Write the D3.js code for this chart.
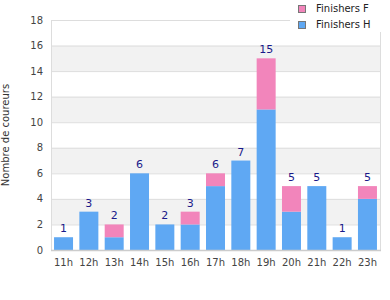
<!DOCTYPE html>
<html lang="fr">
<head>
<meta charset="utf-8">
<script src="https://cdn.jsdelivr.net/npm/d3@7/dist/d3.min.js"></script>
<style>
body { margin: 0; background: #fff; }
text { font-family: "DejaVu Sans", Verdana, sans-serif; }
</style>
</head>
<body>
<script>
// data
var hours = ["11h","12h","13h","14h","15h","16h","17h","18h","19h","20h","21h","22h","23h"];
var finishersH = [1, 3, 1, 6, 2, 2, 5, 7, 11, 3, 5, 1, 4];
var finishersF = [0, 0, 1, 0, 0, 1, 1, 0, 4, 2, 0, 0, 1];
var yTicks = [0, 2, 4, 6, 8, 10, 12, 14, 16, 18];

var w = 390, h = 300;
var pLeft = 51, pRight = 380, pTop = 20, pBottom = 250;

var svg = d3.select("body").append("svg")
  .attr("width", w).attr("height", h);

var x = d3.scaleBand().domain(hours).range([pLeft, pRight]).paddingInner(0.25).paddingOuter(0.12);
var y = d3.scaleLinear().domain([0, 18]).range([pBottom, pTop]);

// alternating bands
for (var i = 0; i < yTicks.length - 1; i++) {
  if (i % 2 == 1) {
    svg.append("rect")
      .attr("x", pLeft).attr("y", y(yTicks[i+1]))
      .attr("width", pRight - pLeft).attr("height", y(yTicks[i]) - y(yTicks[i+1]))
      .attr("fill", "#f2f2f2");
  }
}

// grid lines
svg.selectAll(".grid").data(yTicks.slice(1)).enter().append("line")
  .attr("x1", pLeft).attr("x2", pRight)
  .attr("y1", function(d) { return y(d) + 0.5; })
  .attr("y2", function(d) { return y(d) + 0.5; })
  .attr("stroke", "#dddddd");

// side borders
svg.append("line").attr("x1", pRight + 0.5).attr("x2", pRight + 0.5)
  .attr("y1", pTop).attr("y2", pBottom).attr("stroke", "#dddddd");
svg.append("line").attr("x1", pLeft + 0.5).attr("x2", pLeft + 0.5)
  .attr("y1", pTop).attr("y2", pBottom).attr("stroke", "#dddddd");

// stacked bars
var rows = hours.map(function(hr, i) { return { hour: hr, H: finishersH[i], F: finishersF[i] }; });

svg.selectAll(".barH").data(rows).enter().append("rect")
  .attr("x", function(d) { return x(d.hour); })
  .attr("y", function(d) { return y(d.H); })
  .attr("width", x.bandwidth())
  .attr("height", function(d) { return y(0) - y(d.H); })
  .attr("fill", "#5fa8f3");

svg.selectAll(".barF").data(rows).enter().append("rect")
  .attr("x", function(d) { return x(d.hour); })
  .attr("y", function(d) { return y(d.H + d.F); })
  .attr("width", x.bandwidth())
  .attr("height", function(d) { return y(d.H) - y(d.H + d.F); })
  .attr("fill", "#f285bb");

// totals
svg.selectAll(".total").data(rows).enter().append("text")
  .attr("x", function(d) { return x(d.hour) + x.bandwidth() / 2; })
  .attr("y", function(d) { return y(d.H + d.F) - 5; })
  .attr("text-anchor", "middle")
  .attr("font-size", "11px")
  .attr("fill", "#1a1a8a")
  .text(function(d) { return d.H + d.F; });

// bottom axis line
svg.append("line").attr("x1", pLeft).attr("x2", pRight + 1)
  .attr("y1", pBottom + 0.5).attr("y2", pBottom + 0.5)
  .attr("stroke", "#cccccc").attr("stroke-width", 1.5);

// y tick labels
svg.selectAll(".ylab").data(yTicks).enter().append("text")
  .attr("x", 43).attr("y", function(d) { return y(d) + 3.5; })
  .attr("text-anchor", "end")
  .attr("font-size", "10px")
  .attr("fill", "#444")
  .text(function(d) { return d; });

// x tick labels
svg.selectAll(".xlab").data(hours).enter().append("text")
  .attr("x", function(d) { return x(d) + x.bandwidth() / 2; })
  .attr("y", 266)
  .attr("text-anchor", "middle")
  .attr("font-size", "10px")
  .attr("fill", "#444")
  .text(function(d) { return d; });

// y title
svg.append("text")
  .attr("transform", "translate(9," + (pTop + pBottom) / 2 + ") rotate(-90)")
  .attr("text-anchor", "middle")
  .attr("font-size", "10px")
  .attr("fill", "#333")
  .text("Nombre de coureurs");

// legend
var legend = svg.append("g");
legend.append("rect").attr("x", 290).attr("y", 0).attr("width", 92).attr("height", 32).attr("fill", "#fff");
var items = [{ name: "Finishers F", color: "#f285bb" }, { name: "Finishers H", color: "#5fa8f3" }];
items.forEach(function(it, i) {
  legend.append("rect")
    .attr("x", 298.5).attr("y", 5.5 + i * 16)
    .attr("width", 7).attr("height", 7)
    .attr("fill", it.color).attr("stroke", "#777");
  legend.append("text")
    .attr("x", 316).attr("y", 12 + i * 16)
    .attr("font-size", "10px").attr("fill", "#222")
    .text(it.name);
});
</script>
</body>
</html>
